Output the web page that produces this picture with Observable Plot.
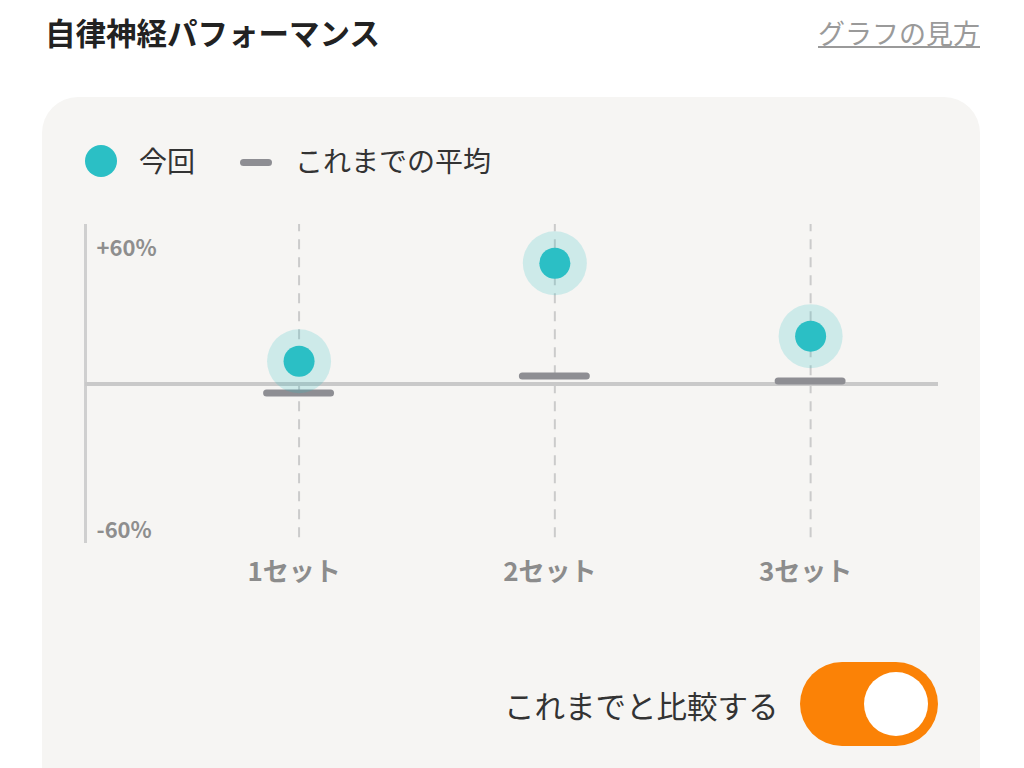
<!DOCTYPE html>
<html>
<head>
<meta charset="utf-8">
<script src="https://cdn.jsdelivr.net/npm/d3@7"></script>
<script src="https://cdn.jsdelivr.net/npm/@observablehq/plot@0.6"></script>
<style>
  html, body { margin: 0; padding: 0; background: #ffffff; width: 1024px; height: 768px; overflow: hidden; font-family: "Noto Sans CJK JP", "Noto Sans", sans-serif; }
  .abs { position: absolute; }
  #title { left: 45px; top: 12px; font-size: 30.5px; font-weight: 700; color: #222; line-height: 40px; white-space: nowrap; }
  #link { right: 44px; top: 14px; font-size: 27px; color: #9a9a9a; text-decoration: underline; line-height: 38px; white-space: nowrap; }
  #card { left: 42px; top: 97px; width: 938px; height: 720px; border-radius: 36px; background: #f6f5f3; }
  .legtext { font-size: 28px; color: #333; line-height: 36px; white-space: nowrap; }
  #chart { left: 0; top: 200px; }
  #toggletext { left: 504px; top: 685px; font-size: 30.5px; color: #333; line-height: 40px; white-space: nowrap; }
  #toggle { left: 800px; top: 662px; width: 138px; height: 84px; border-radius: 42px; background: #fb8206; }
  #knob { left: 64px; top: 10px; width: 64px; height: 64px; border-radius: 32px; background: #ffffff; }
</style>
</head>
<body>
<div id="title" class="abs">自律神経パフォーマンス</div>
<div id="link" class="abs">グラフの見方</div>
<div id="card" class="abs"></div>
<div class="abs" style="left:85px;top:145px;width:32px;height:32px;border-radius:16px;background:#2bbfc5;"></div>
<div class="abs legtext" style="left:139px;top:142px;">今回</div>
<div class="abs" style="left:240px;top:159px;width:32px;height:7px;border-radius:4px;background:#8e8e93;"></div>
<div class="abs legtext" style="left:295px;top:142px;">これまでの平均</div>
<div id="chart" class="abs"></div>
<div id="toggletext" class="abs">これまでと比較する</div>
<div id="toggle" class="abs"><div id="knob" class="abs"></div></div>
<script>
// Data
const setLabels = ["1セット", "2セット", "3セット"];
const currentValues = [10, 53, 21];     // 今回 (%)
const averageValues = [-4, 3.5, 1.3];   // これまでの平均 (%)
const yTickValues = [60, -60];
const yTickLabels = ["+60%", "-60%"];

const rows = setLabels.map((name, k) => ({ i: k + 1, name, current: currentValues[k], avg: averageValues[k] }));
const yTicks = yTickValues.map((v, k) => ({ v, label: yTickLabels[k] }));

const xMin = 0.165, xMax = 3.5, yMin = -70, yMax = 70;
const teal = "#2bbfc5";
const font = "'Noto Sans CJK JP', 'Noto Sans', sans-serif";
const yLabelStyle = { x: xMin, y: "v", text: "label", dx: 11, textAnchor: "start", fontSize: 22, fontWeight: 700, fill: "#8e8e8e" };

const plot = Plot.plot({
  width: 1024,
  height: 400,
  marginLeft: 85,
  marginRight: 86,
  marginTop: 24,
  marginBottom: 57,
  style: { background: "transparent", fontFamily: font, overflow: "visible" },
  x: { domain: [xMin, xMax], axis: null },
  y: { domain: [yMin, yMax], axis: null },
  marks: [
    Plot.ruleX([xMin], { y1: yMin, y2: yMax, stroke: "#cfcfcf", strokeWidth: 3 }),
    Plot.ruleX(rows, { x: "i", y1: yMin + 2.5, y2: yMax, stroke: "#cbcbcb", strokeWidth: 2, strokeDasharray: "10,8" }),
    Plot.ruleY([0], { stroke: "#c9c9c9", strokeWidth: 4 }),
    Plot.ruleY(rows, { y: "avg", x1: d => d.i - 0.125, x2: d => d.i + 0.125, stroke: "#8e8e93", strokeWidth: 7, strokeLinecap: "round" }),
    Plot.dot(rows, { x: "i", y: "current", r: 32, fill: teal, fillOpacity: 0.2, stroke: null }),
    Plot.dot(rows, { x: "i", y: "current", r: 15.5, fill: teal, stroke: null }),
    Plot.text(yTicks.filter(d => d.v > 0), { ...yLabelStyle, dy: 2 }),
    Plot.text(yTicks.filter(d => d.v < 0), { ...yLabelStyle, dy: 10 }),
    Plot.text(rows, { x: "i", y: yMin, text: "name", dx: -5, dy: 29, fontSize: 26, fontWeight: 700, fill: "#8c8c8c" })
  ]
});
document.getElementById("chart").appendChild(plot);
</script>
</body>
</html>
